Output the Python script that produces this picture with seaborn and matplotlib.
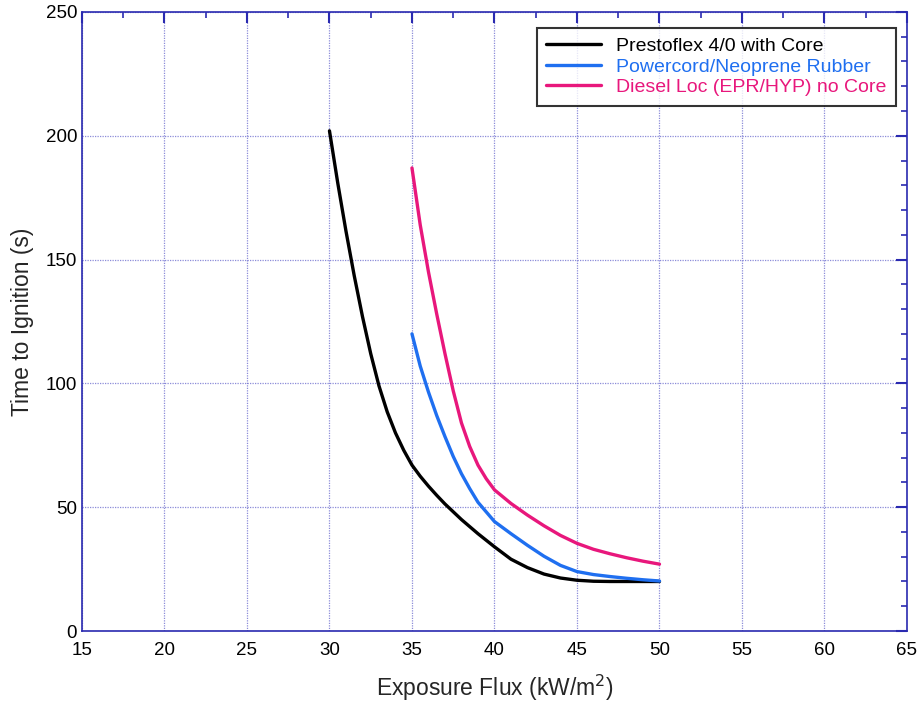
#!/usr/bin/env python3
"""Time to ignition vs exposure flux for three cable types."""

import pandas as pd
import matplotlib.pyplot as plt
import seaborn as sns
from matplotlib.ticker import MultipleLocator

# values
flux_black = [30, 30.5, 31, 31.5, 32, 32.5, 33, 33.5, 34, 34.5, 35, 35.5, 36, 36.5, 37,
              38, 39, 40, 41, 42, 43, 44, 45, 46, 47, 48, 49, 50]
tti_black = [202, 181, 161.5, 143.5, 127, 112, 99, 88.5, 80, 73, 67, 62.5, 58.5, 54.8, 51.3,
             45, 39.3, 34, 29, 25.6, 23, 21.4, 20.5, 20.1, 20, 20, 20, 20]

flux_blue = [35, 35.5, 36, 36.5, 37, 37.5, 38, 38.5, 39, 40, 41, 42, 43, 44, 45, 46, 47, 48, 49, 50]
tti_blue = [120, 107, 96.5, 87, 78.5, 70.5, 63.5, 57.5, 52, 44.2, 39.3, 34.6, 30.2, 26.5, 24,
            22.8, 22, 21.3, 20.7, 20.2]

flux_pink = [35, 35.5, 36, 36.5, 37, 37.5, 38, 38.5, 39, 39.5, 40, 41, 42, 43, 44, 45, 46, 47, 48, 49, 50]
tti_pink = [187, 164, 145, 128, 112, 97, 84, 74.5, 67, 61.5, 57, 51.5, 46.8, 42.5, 38.6, 35.4,
            33, 31.2, 29.6, 28.2, 27]

series_names = ['Prestoflex 4/0 with Core',
                'Powercord/Neoprene Rubber',
                'Diesel Loc (EPR/HYP) no Core']
series_colors = ['#000000', '#1f6ff0', '#e8177c']

x_ticks = [15, 20, 25, 30, 35, 40, 45, 50, 55, 60, 65]
y_ticks = [0, 50, 100, 150, 200, 250]

frames = []
for name, xs, ys in zip(series_names,
                        [flux_black, flux_blue, flux_pink],
                        [tti_black, tti_blue, tti_pink]):
    frames.append(pd.DataFrame({'flux': xs, 'tti': ys, 'cable': name}))
df = pd.concat(frames, ignore_index=True)

sns.set_style('white')
plt.rcParams['font.family'] = ['Liberation Sans', 'DejaVu Sans']

axis_blue = '#2a2ab0'

fig = plt.figure(figsize=(9.24, 7.03), dpi=100)
ax = fig.add_axes([0.0887, 0.1024, 0.8929, 0.8806])

sns.lineplot(data=df, x='flux', y='tti', hue='cable', hue_order=series_names,
             palette=dict(zip(series_names, series_colors)),
             linewidth=2.4, sort=False, estimator=None, ax=ax)
for line in ax.get_lines():
    line.set_solid_joinstyle('round')

ax.set_xlim(15, 65)
ax.set_ylim(0, 250)
ax.set_xticks(x_ticks)
ax.set_yticks(y_ticks)
ax.xaxis.set_minor_locator(MultipleLocator(2.5))
ax.yaxis.set_minor_locator(MultipleLocator(10))

ax.grid(True, which='major', color='#6666cc', linestyle=(0, (1, 1)),
        linewidth=0.9, alpha=0.75)
ax.set_axisbelow(True)

for sp in ax.spines.values():
    sp.set_color(axis_blue)
    sp.set_linewidth(1.2)

ax.tick_params(which='both', direction='in', top=True, right=True,
               color=axis_blue, labelsize=13.5, labelcolor='black')
ax.tick_params(which='major', length=8, width=1.5)
ax.tick_params(which='minor', length=4, width=1.2)
ax.tick_params(axis='x', pad=8)

ax.set_xlabel('Exposure Flux (kW/m$^2$)', fontsize=16.5, labelpad=10)
ax.set_ylabel('Time to Ignition (s)', fontsize=16.5, labelpad=8)

leg = ax.legend(loc='upper right', bbox_to_anchor=(0.999, 0.99),
                fontsize=14, frameon=True, fancybox=False,
                edgecolor='black', labelcolor='linecolor',
                handlelength=2.8, borderpad=0.5, labelspacing=0.15)
leg.get_frame().set_linewidth(1.5)
leg.set_title(None)

fig.savefig('out.png', dpi=100)
